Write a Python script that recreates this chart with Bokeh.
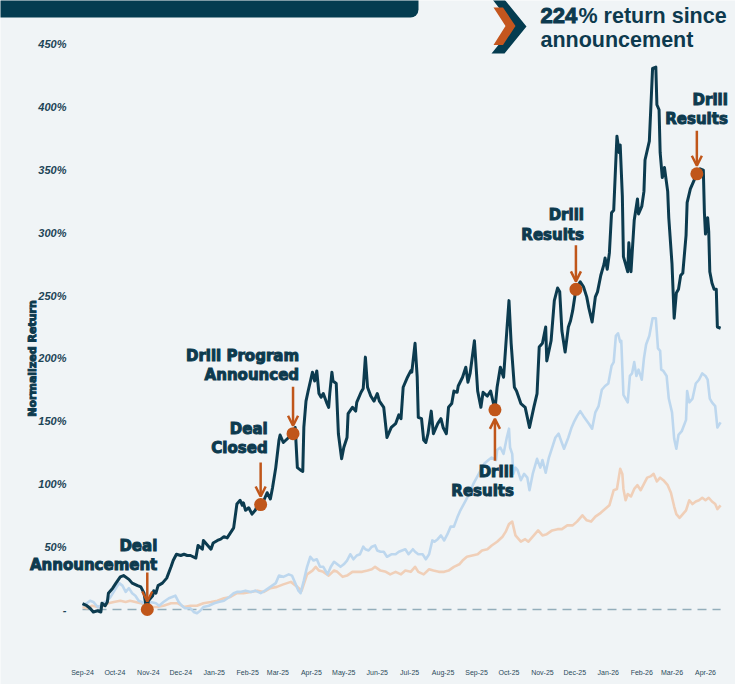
from datetime import datetime, timedelta
import numpy as np
from bokeh.plotting import figure
from bokeh.models import (Range1d, FixedTicker, DatetimeTickFormatter, Label, Arrow,
                          OpenHead, BoxAnnotation, PolyAnnotation)
from bokeh.embed import file_html
from bokeh.resources import INLINE

# ---------------- data ----------------
BASE = datetime(2024, 9, 1)  # day 0

navy_days = [0,4,7,10,14,17,18,21,23,24,28,31,35,38,43,46,51,54,57,59,
             60,61,65,66,68,70,74,78,82,84,87,91,94,97,100,105,107,111,112,116,
             119,121,125,128,131,134,137,140,143,146,148,149,151,154,157,160,162,165,168,171,
             174,176,179,182,183,186,191,195,197,199,202,204,205,207,209,213,215,217,219,221,
             223,226,228,229,231,232,235,237,240,242,245,246,250,253,254,258,260,262,264,267,
             270,273,275,279,281,282,286,290,293,295,297,301,304,305,308,310,311,314,316,318,
             320,323,325,329,332,334,337,339,342,344,347,348,352,355,357,359,363,366,369,371,
             375,378,382,384,387,390,393,395,397,400,402,406,410,414,418,421,423,426,429,430,
             434,437,440,442,444,447,450,452,454,457,461,464,467,469,472,475,477,480,483,484,
             486,488,490,492,494,495,497,498,500,501,503,505,506,508,511,514,515,518,520,521,
             525,528,531,532,534,535,537,539,542,543,546,548,550,552,554,556,559,560,563,566,
             569,572,575,576,577,579,580,581,583,585,587,588,591]
navy_vals = [4.6,3,1,-2,-1,-2,5,3,6,13,17,21,26,27,24,21,19,18,13,2,
             0,7,11,15,13,19,21,25,34,39,44,43,44,43,43,41,51,48,55,51,
             48,53,55,56,58,57,61,65,84,87,83,85,79,81,76,79,83,83.6,87,93,
             88,97,113,135,139,133,137,140,145,113,111,110,145,166,174,189,182,190,172,169,
             172,165,161,172,189,182,180,140,120,129,137,156,161,158,165,173,176,201,177,170,
             166,172,166,161,145,137,145,148,155,152,177,185,190,189,212,185,153,152,135,133,
             140,158,140,148,152,145,140,161,164,174,173,178,185,193,181,188,214,174,161,173,
             170,174,159,177,193,185,222,246,212,177,174,164,161,145,161,172,209,212,225,198,
             214,246,256,253,222,205,225,230,238,255,261,257,249,240,229,249,253,266,275,280,
             271,284,316,318,358,377,364,370,329,281,275,269,292,269,310,327,315,321,333,358,
             373,431,432,402,398,364,344,352,333,312,275,232,252,255,266,268,298,324,335,341,
             347,351,350,316,299,312,301,269,260,255,255,225,224]

blue_days = [0,4,7,10,14,17,19,23,26,31,34,37,40,43,46,49,52,55,59,63,
             68,71,75,80,83,86,89,92,95,100,103,106,109,112,117,122,126,131,136,140,
             143,146,151,156,160,165,169,174,179,182,186,191,194,197,200,202,205,208,211,214,
             217,220,223,227,230,233,236,239,242,245,248,251,254,257,260,262,265,268,271,273,
             276,279,282,286,290,293,296,299,302,306,308,311,315,318,321,324,326,329,332,335,
             338,341,344,347,350,355,358,362,367,372,376,379,383,384,387,390,393,395,396,398,
             399,401,403,406,409,412,414,417,421,424,426,429,432,435,438,441,443,446,450,453,
             455,458,461,464,469,472,475,478,481,484,487,490,492,494,496,498,499,501,503,505,
             507,509,511,513,515,518,520,522,525,528,531,533,535,536,538,541,543,546,548,550,
             552,555,559,560,562,565,568,571,574,577,579,581,583,586,588,591]
blue_vals = [3,5,7,6,2,3,5,7,10,17,21,19,14,17,13,11,7,6,3,6,
             5,3,6,9,10,11,6,3,1,1,-2,-3,-1,2,3,5,6,7,10,13,
             14,14,15,14,15,13,15,18,21,27,26,28,27,21,15,13,23,34,42,39,
             40,34,34,28,34,38,36,34,36,39,44,40,43,44,50,48,47,50,51,47,
             46,46,42,44,44,46,47,48,44,48,46,44,44,40,44,55,54,56,59,55,
             60,66,66,73,79,87,92,100,108,116,119,121,119,127,129,124,137,144,129,124,
             108,113,111,103,108,105,95,108,120,113,119,109,121,129,137,140,135,128,137,145,
             149,154,158,154,148,144,157,162,175,178,180,194,197,218,220,213,214,171,168,165,
             186,188,197,186,191,183,200,211,218,232,232,208,206,191,190,186,168,157,136,128,
             139,142,151,174,165,168,180,183,188,186,183,168,165,162,145,149]

peach_days = [0,4,9,14,20,24,29,35,40,44,49,54,58,63,69,75,82,88,94,100,
              106,112,119,125,131,137,143,149,156,162,168,174,180,186,193,199,203,208,213,216,
              219,223,228,233,236,241,245,250,254,259,264,268,271,276,281,285,290,295,299,304,
              308,311,316,321,325,330,335,339,344,349,352,356,361,366,370,375,379,384,389,392,
              395,398,401,406,410,413,418,422,426,430,435,440,444,449,454,458,463,467,471,475,
              480,484,488,492,495,498,500,501,503,505,508,511,514,517,520,523,526,529,532,535,
              538,542,545,548,550,553,556,559,562,565,568,571,574,577,580,583,586,588,591]
peach_vals = [2,1,3,2,3,5,6,7,6,7,6,5,3,2,2,3,5,5,2,3,
              3,5,6,7,9,10,13,13,14,15,14,17,18,20,22,18,15,28,31,34,
              31,30,27,31,30,26,27,30,30,30,31,32,34,31,30,28,30,28,31,30,
              34,30,28,32,31,30,30,31,34,36,39,42,43,44,47,48,51,54,58,62,
              68,70,59,54,56,54,59,63,59,60,63,64,64,67,67,70,75,71,70,74,
              77,80,83,95,96,112,108,96,87,92,90,96,99,95,100,105,106,108,102,105,
              103,99,93,82,76,73,76,79,87,84,86,87,89,87,89,86,84,80,83]

month_ticks = ["2024-09-01", "2024-10-01", "2024-11-01", "2024-12-01", "2025-01-01",
               "2025-02-01", "2025-03-01", "2025-04-01", "2025-05-01", "2025-06-01",
               "2025-07-01", "2025-08-01", "2025-09-01", "2025-10-01", "2025-11-01",
               "2025-12-01", "2026-01-01", "2026-02-01", "2026-03-01", "2026-04-01"]
y_ticks = [0, 50, 100, 150, 200, 250, 300, 350, 400, 450]
y_tick_labels = ["-", "50%", "100%", "150%", "200%", "250%", "300%", "350%", "400%", "450%"]

event_days = [60, 165, 195, 382, 457, 569]
event_lines = [("Deal", "Announcement"), ("Deal", "Closed"), ("Drill Program", "Announced"),
               ("Drill", "Results"), ("Drill", "Results"), ("Drill", "Results")]

headline_number = "224"
headline_rest = "% return since"
headline_line2 = "announcement"
y_title = "Normalized Return"

# ---------------- style / layout ----------------
BG = "#f0f4f6"
NAVY = "#0c3b4f"
TEXT = "#0d3a4e"
BLUE = "#bdd7ee"
PEACH = "#f0cfb8"
ORANGE = "#c0561a"
BOXNAVY = "#043c50"

W, H = 735, 684
# pixel calibration of the data axes
X0_PX, PX_PER_DAY = 82.0, 1.0797    # x pixel of BASE, pixels per day
Y0_PX, PX_PER_PCT = 609.0, 1.2556   # y pixel of 0 %, pixels per percent


def xd(px):
    return BASE + timedelta(days=(px - X0_PX) / PX_PER_DAY)


def yv(py):
    return (Y0_PX - py) / PX_PER_PCT


def ms(dt):
    return (dt - datetime(1970, 1, 1)).total_seconds() * 1000.0


def to_dates(days):
    return [BASE + timedelta(days=d) for d in days]


p = figure(frame_width=W, frame_height=H, x_axis_type="datetime",
           x_range=Range1d(xd(0), xd(W)), y_range=Range1d(yv(H), yv(0)),
           output_backend="svg", toolbar_location=None,
           min_border_left=0, min_border_right=0, min_border_top=0, min_border_bottom=0,
           background_fill_color=BG, border_fill_color=BG, outline_line_color=None)

p.xgrid.visible = False
p.ygrid.visible = False

# axes drawn inside the frame at fixed locations
p.yaxis.fixed_location = ms(xd(78))
p.yaxis.ticker = FixedTicker(ticks=y_ticks)
p.yaxis.major_label_overrides = {t: l for t, l in zip(y_ticks, y_tick_labels)}
p.yaxis.axis_line_color = None
p.yaxis.major_tick_line_color = None
p.yaxis.minor_tick_line_color = None
p.yaxis.major_label_standoff = 6
p.yaxis.major_label_text_font = "Liberation Sans"
p.yaxis.major_label_text_font_style = "bold italic"
p.yaxis.major_label_text_font_size = "11px"
p.yaxis.major_label_text_color = "#1d4557"

p.xaxis.fixed_location = yv(658)
p.xaxis.ticker = FixedTicker(ticks=[ms(datetime.fromisoformat(t)) for t in month_ticks])
fmt = "%b-%y"
p.xaxis.formatter = DatetimeTickFormatter(days=fmt, months=fmt, years=fmt, hours=fmt,
                                          minutes=fmt, seconds=fmt, milliseconds=fmt,
                                          microseconds=fmt, minsec=fmt, hourmin=fmt)
p.xaxis.axis_line_color = None
p.xaxis.major_tick_line_color = None
p.xaxis.minor_tick_line_color = None
p.xaxis.major_label_standoff = 4
p.xaxis.major_label_text_font = "Liberation Sans"
p.xaxis.major_label_text_font_size = "7px"
p.xaxis.major_label_text_color = "#2b4a5a"

# baseline
p.line(to_dates([navy_days[0], navy_days[-1]]), [0, 0], line_color="#94aebb",
       line_width=1.3, line_dash="9 6")

# series
p.line(to_dates(peach_days), peach_vals, line_color=PEACH, line_width=2.6, line_join="round")
p.line(to_dates(blue_days), blue_vals, line_color=BLUE, line_width=2.6, line_join="round")
p.line(to_dates(navy_days), navy_vals, line_color=NAVY, line_width=3, line_join="round")

# events
ev_x = to_dates(event_days)
ev_y = [float(np.interp(d, navy_days, navy_vals)) for d in event_days]
p.scatter(ev_x, ev_y, size=13, fill_color=ORANGE, line_color=None)

LABEL_FONT = "DejaVu Sans"
# per event: (text right edge dx px, first line dy px, arrow start dy, arrow end dy); dy<0 = above
ev_layout = [(10, -64, -37, -8), (7, -76, -42, -8), (6, -78, -47, -8),
             (19, 62, 51, 9), (8, -74, -44, -8), (31, -74, -43, -8)]
for x, y, (l1, l2), (tx, ty, a0, a1) in zip(ev_x, ev_y, event_lines, ev_layout):
    for i, txt in enumerate((l1, l2)):
        p.add_layout(Label(x=x + timedelta(days=tx / PX_PER_DAY),
                           y=y - (ty + 19.5 * i) / PX_PER_PCT,
                           text=txt, text_align="right", text_baseline="middle",
                           text_font=LABEL_FONT, text_font_style="bold",
                           text_font_size="15px", text_color=TEXT,
                           text_outline_color=TEXT))
    p.add_layout(Arrow(end=OpenHead(size=10, line_color=ORANGE, line_width=2.5),
                       x_start=x, y_start=y - a0 / PX_PER_PCT,
                       x_end=x, y_end=y - a1 / PX_PER_PCT,
                       line_color=ORANGE, line_width=2.5))

# y axis title
p.add_layout(Label(x=xd(32), y=yv(358), text=y_title, angle=np.pi / 2,
                   text_align="center", text_baseline="middle", text_font=LABEL_FONT,
                   text_font_style="bold", text_font_size="11px", text_color=TEXT,
                   text_outline_color=TEXT))

# title box (top-left, cropped in the reference)
p.add_layout(BoxAnnotation(left=xd(-30), right=xd(418), bottom=yv(17), top=yv(-30),
                           fill_color=BOXNAVY, fill_alpha=1, line_color=None,
                           border_radius=8))

# chevrons
dark = [(492, -1), (504, -1), (526, 26), (504, 53), (491, 53), (513, 26)]
orng = [(493, 7), (502.5, 7), (515, 25.5), (502.5, 44.5), (493, 44.5), (505, 25.5)]
for pts, col in ((dark, BOXNAVY), (orng, "#c4561e")):
    p.add_layout(PolyAnnotation(xs=[ms(xd(a)) for a, b in pts], ys=[yv(b) for a, b in pts],
                                fill_color=col, fill_alpha=1, line_color=None))

# headline
HFONT = "Liberation Sans"
p.add_layout(Label(x=xd(540), y=yv(15), text=headline_number, text_align="left",
                   text_baseline="middle", text_font=HFONT, text_font_style="bold",
                   text_font_size="22px", text_color=TEXT, text_outline_color=TEXT))
p.add_layout(Label(x=xd(578), y=yv(15), text=headline_rest, text_align="left",
                   text_baseline="middle", text_font=HFONT, text_font_style="bold",
                   text_font_size="21.5px", text_color=TEXT))
p.add_layout(Label(x=xd(540), y=yv(39), text=headline_line2, text_align="left",
                   text_baseline="middle", text_font=HFONT, text_font_style="bold",
                   text_font_size="21.5px", text_color=TEXT))

open("out.html", "w").write(file_html(p, INLINE))
